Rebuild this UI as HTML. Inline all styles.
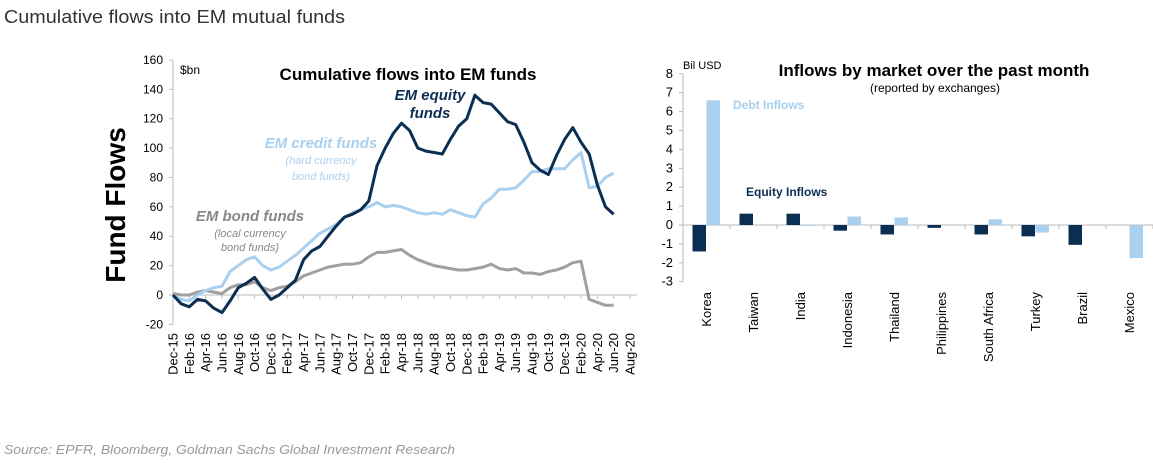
<!DOCTYPE html>
<html><head><meta charset="utf-8"><style>
body{margin:0;background:#fff;width:1153px;height:463px;overflow:hidden;font-family:"Liberation Sans",sans-serif}
svg{position:absolute;left:0;top:0}
</style></head><body>
<svg id="s" width="1153" height="463">
<text x="4" y="23" font-size="18" fill="#333" textLength="341" lengthAdjust="spacingAndGlyphs">Cumulative flows into EM mutual funds</text>
<text x="0" y="0" transform="translate(125,205) rotate(-90)" text-anchor="middle" font-size="28" font-weight="bold" fill="#000">Fund Flows</text>
<text x="4" y="454" font-size="13" font-style="italic" fill="#999" textLength="451" lengthAdjust="spacingAndGlyphs">Source: EPFR, Bloomberg, Goldman Sachs Global Investment Research</text>
<g id="left"></g>
<g id="right"></g>
</svg>
<script>
const months = ["Dec-15","Feb-16","Apr-16","Jun-16","Aug-16","Oct-16","Dec-16","Feb-17","Apr-17","Jun-17","Aug-17","Oct-17","Dec-17","Feb-18","Apr-18","Jun-18","Aug-18","Oct-18","Dec-18","Feb-19","Apr-19","Jun-19","Aug-19","Oct-19","Dec-19","Feb-20","Apr-20","Jun-20","Aug-20"];
const yTicks = [-20,0,20,40,60,80,100,120,140,160];
const equity = [0,-6,-8,-3,-4,-9,-12,-4,5,8,12,4,-3,0,5,10,24,30,33,40,47,53,55,58,64,88,100,110,117,112,100,98,97,96,106,115,120,136,131,130,124,118,116,104,90,85,82,95,106,114,104,96,75,60,55];
const credit = [0,-3,-4,0,3,5,6,16,20,24,26,20,17,19,23,27,32,37,42,45,48,53,56,58,60,63,60,61,60,58,56,55,56,55,58,56,54,53,62,66,72,72,73,78,84,84,86,86,86,92,97,73,74,80,83];
const bond = [1,0,0,2,3,2,1,5,7,7,9,5,3,5,6,9,13,15,17,19,20,21,21,22,26,29,29,30,31,27,24,22,20,19,18,17,17,18,19,21,18,17,18,15,15,14,16,17,19,22,23,-3,-5,-7,-7];

const countries = ["Korea","Taiwan","India","Indonesia","Thailand","Philippines","South Africa","Turkey","Brazil","Mexico"];
const equityInflows = [-1.4,0.6,0.6,-0.3,-0.5,-0.15,-0.5,-0.6,-1.05,0];
const debtInflows = [6.6,0,-0.05,0.45,0.4,0,0.3,-0.4,0,-1.75];
const rTicks = [-3,-2,-1,0,1,2,3,4,5,6,7,8];

const NS="http://www.w3.org/2000/svg";
function mk(parent,tag,attrs,text){const e=document.createElementNS(NS,tag);for(const k in attrs)e.setAttribute(k,attrs[k]);if(text!==undefined)e.textContent=text;parent.appendChild(e);return e;}

// LEFT
const L=document.getElementById('left');
const x0=173,xM=8.16,yZ=295,yS=1.4688;
const lx=m=>x0+m*xM, ly=v=>yZ-v*yS;
let e;
e=mk(L,'line',{x1:x0,y1:ly(160),x2:x0,y2:ly(-20),stroke:'#bbb','stroke-width':1});

e=mk(L,'line',{x1:x0,y1:yZ,x2:lx(56)+7,y2:yZ,stroke:'#bbb','stroke-width':1});

yTicks.forEach(v=>{
  mk(L,'line',{x1:x0-4,y1:ly(v),x2:x0,y2:ly(v),stroke:'#bbb'});
  e=mk(L,'text',{x:x0-10,y:ly(v)+4,'text-anchor':'end','font-size':12,fill:'#000'},v);
  
});
months.forEach((m,i)=>{
  const x=lx(i*2);
  mk(L,'line',{x1:x,y1:yZ,x2:x,y2:yZ+4,stroke:'#bbb'});
  e=mk(L,'text',{transform:`translate(${x+4.5},333) rotate(-90)`,'text-anchor':'end','font-size':13,fill:'#000'},m);
  
});
function line(arr,color,name){
  const d=arr.map((v,i)=>(i?'L':'M')+lx(i).toFixed(1)+','+ly(v).toFixed(1)).join('');
  const p=mk(L,'path',{d:d,fill:'none',stroke:color,'stroke-width':3,'stroke-linejoin':'round'});
  
}
line(bond,'#a0a0a0','em-bond-funds-line');
line(credit,'#a9d0ef','em-credit-funds-line');
line(equity,'#0b2f52','em-equity-funds-line');
const lt=[
 [180,74,'$bn',12,'#000','normal','normal','start','units-label'],
 [408,80,'Cumulative flows into EM funds',17,'#000','bold','normal','middle','left-chart-title'],
 [430,100,'EM equity',15,'#0b2f52','bold','italic','middle','equity-label'],
 [430,118,'funds',15,'#0b2f52','bold','italic','middle','equity-label-2'],
 [321,148,'EM credit  funds',15,'#a9d0ef','bold','italic','middle','credit-label'],
 [321,164,'(hard  currency',11,'#a9d0ef','normal','italic','middle','credit-sub'],
 [321,180,'bond funds)',11,'#a9d0ef','normal','italic','middle','credit-sub-2'],
 [250,221,'EM bond funds',15,'#888','bold','italic','middle','bond-label'],
 [250,237,'(local  currency',11,'#888','normal','italic','middle','bond-sub'],
 [250,251,'bond funds)',11,'#888','normal','italic','middle','bond-sub-2']];
lt.forEach(t=>{e=mk(L,'text',{x:t[0],y:t[1],'font-size':t[3],fill:t[4],'font-weight':t[5],'font-style':t[6],'text-anchor':t[7]},t[2]);
 });

// RIGHT
const R=document.getElementById('right');
const rx0=683,cw=47,rZ=225,rS=18.9;
const ry=v=>rZ-v*rS;
e=mk(R,'line',{x1:rx0,y1:ry(8),x2:rx0,y2:ry(-3),stroke:'#bbb'});

e=mk(R,'line',{x1:rx0,y1:rZ,x2:1153,y2:rZ,stroke:'#bbb'});

rTicks.forEach(v=>{
  mk(R,'line',{x1:rx0-4,y1:ry(v),x2:rx0,y2:ry(v),stroke:'#bbb'});
  e=mk(R,'text',{x:rx0-10,y:ry(v)+4,'text-anchor':'end','font-size':13,fill:'#000'},v);
  
});
countries.forEach((c,i)=>{
  const cx=rx0+cw*i+cw/2;
  mk(R,'line',{x1:rx0+cw*(i+1),y1:rZ,x2:rx0+cw*(i+1),y2:rZ+4,stroke:'#bbb'});
  const ev=equityInflows[i],dv=debtInflows[i];
  e=mk(R,'rect',{x:cx-14,y:Math.min(ry(ev),rZ),width:13.5,height:Math.abs(ry(ev)-rZ),fill:'#0b2f52'});
  
  e=mk(R,'rect',{x:cx,y:Math.min(ry(dv),rZ),width:13.5,height:Math.abs(ry(dv)-rZ),fill:'#a9d0ef'});
  
  e=mk(R,'text',{transform:`translate(${cx+4.5},292) rotate(-90)`,'text-anchor':'end','font-size':13,fill:'#000'},c);
  
});
const rt=[
 [683,69,'Bil USD',11,'#000','normal','start','right-units-label'],
 [934,76,'Inflows by market over the past month',17,'#000','bold','middle','right-chart-title'],
 [935,92,'(reported by exchanges)',12,'#000','normal','middle','right-chart-subtitle'],
 [733,109,'Debt Inflows',12,'#a9d0ef','bold','start','debt-legend-label'],
 [746,196,'Equity Inflows',12,'#0b2f52','bold','start','equity-legend-label']];
rt.forEach(t=>{e=mk(R,'text',{x:t[0],y:t[1],'font-size':t[3],fill:t[4],'font-weight':t[5],'text-anchor':t[6]},t[2]);
 });
</script>
</body></html>
